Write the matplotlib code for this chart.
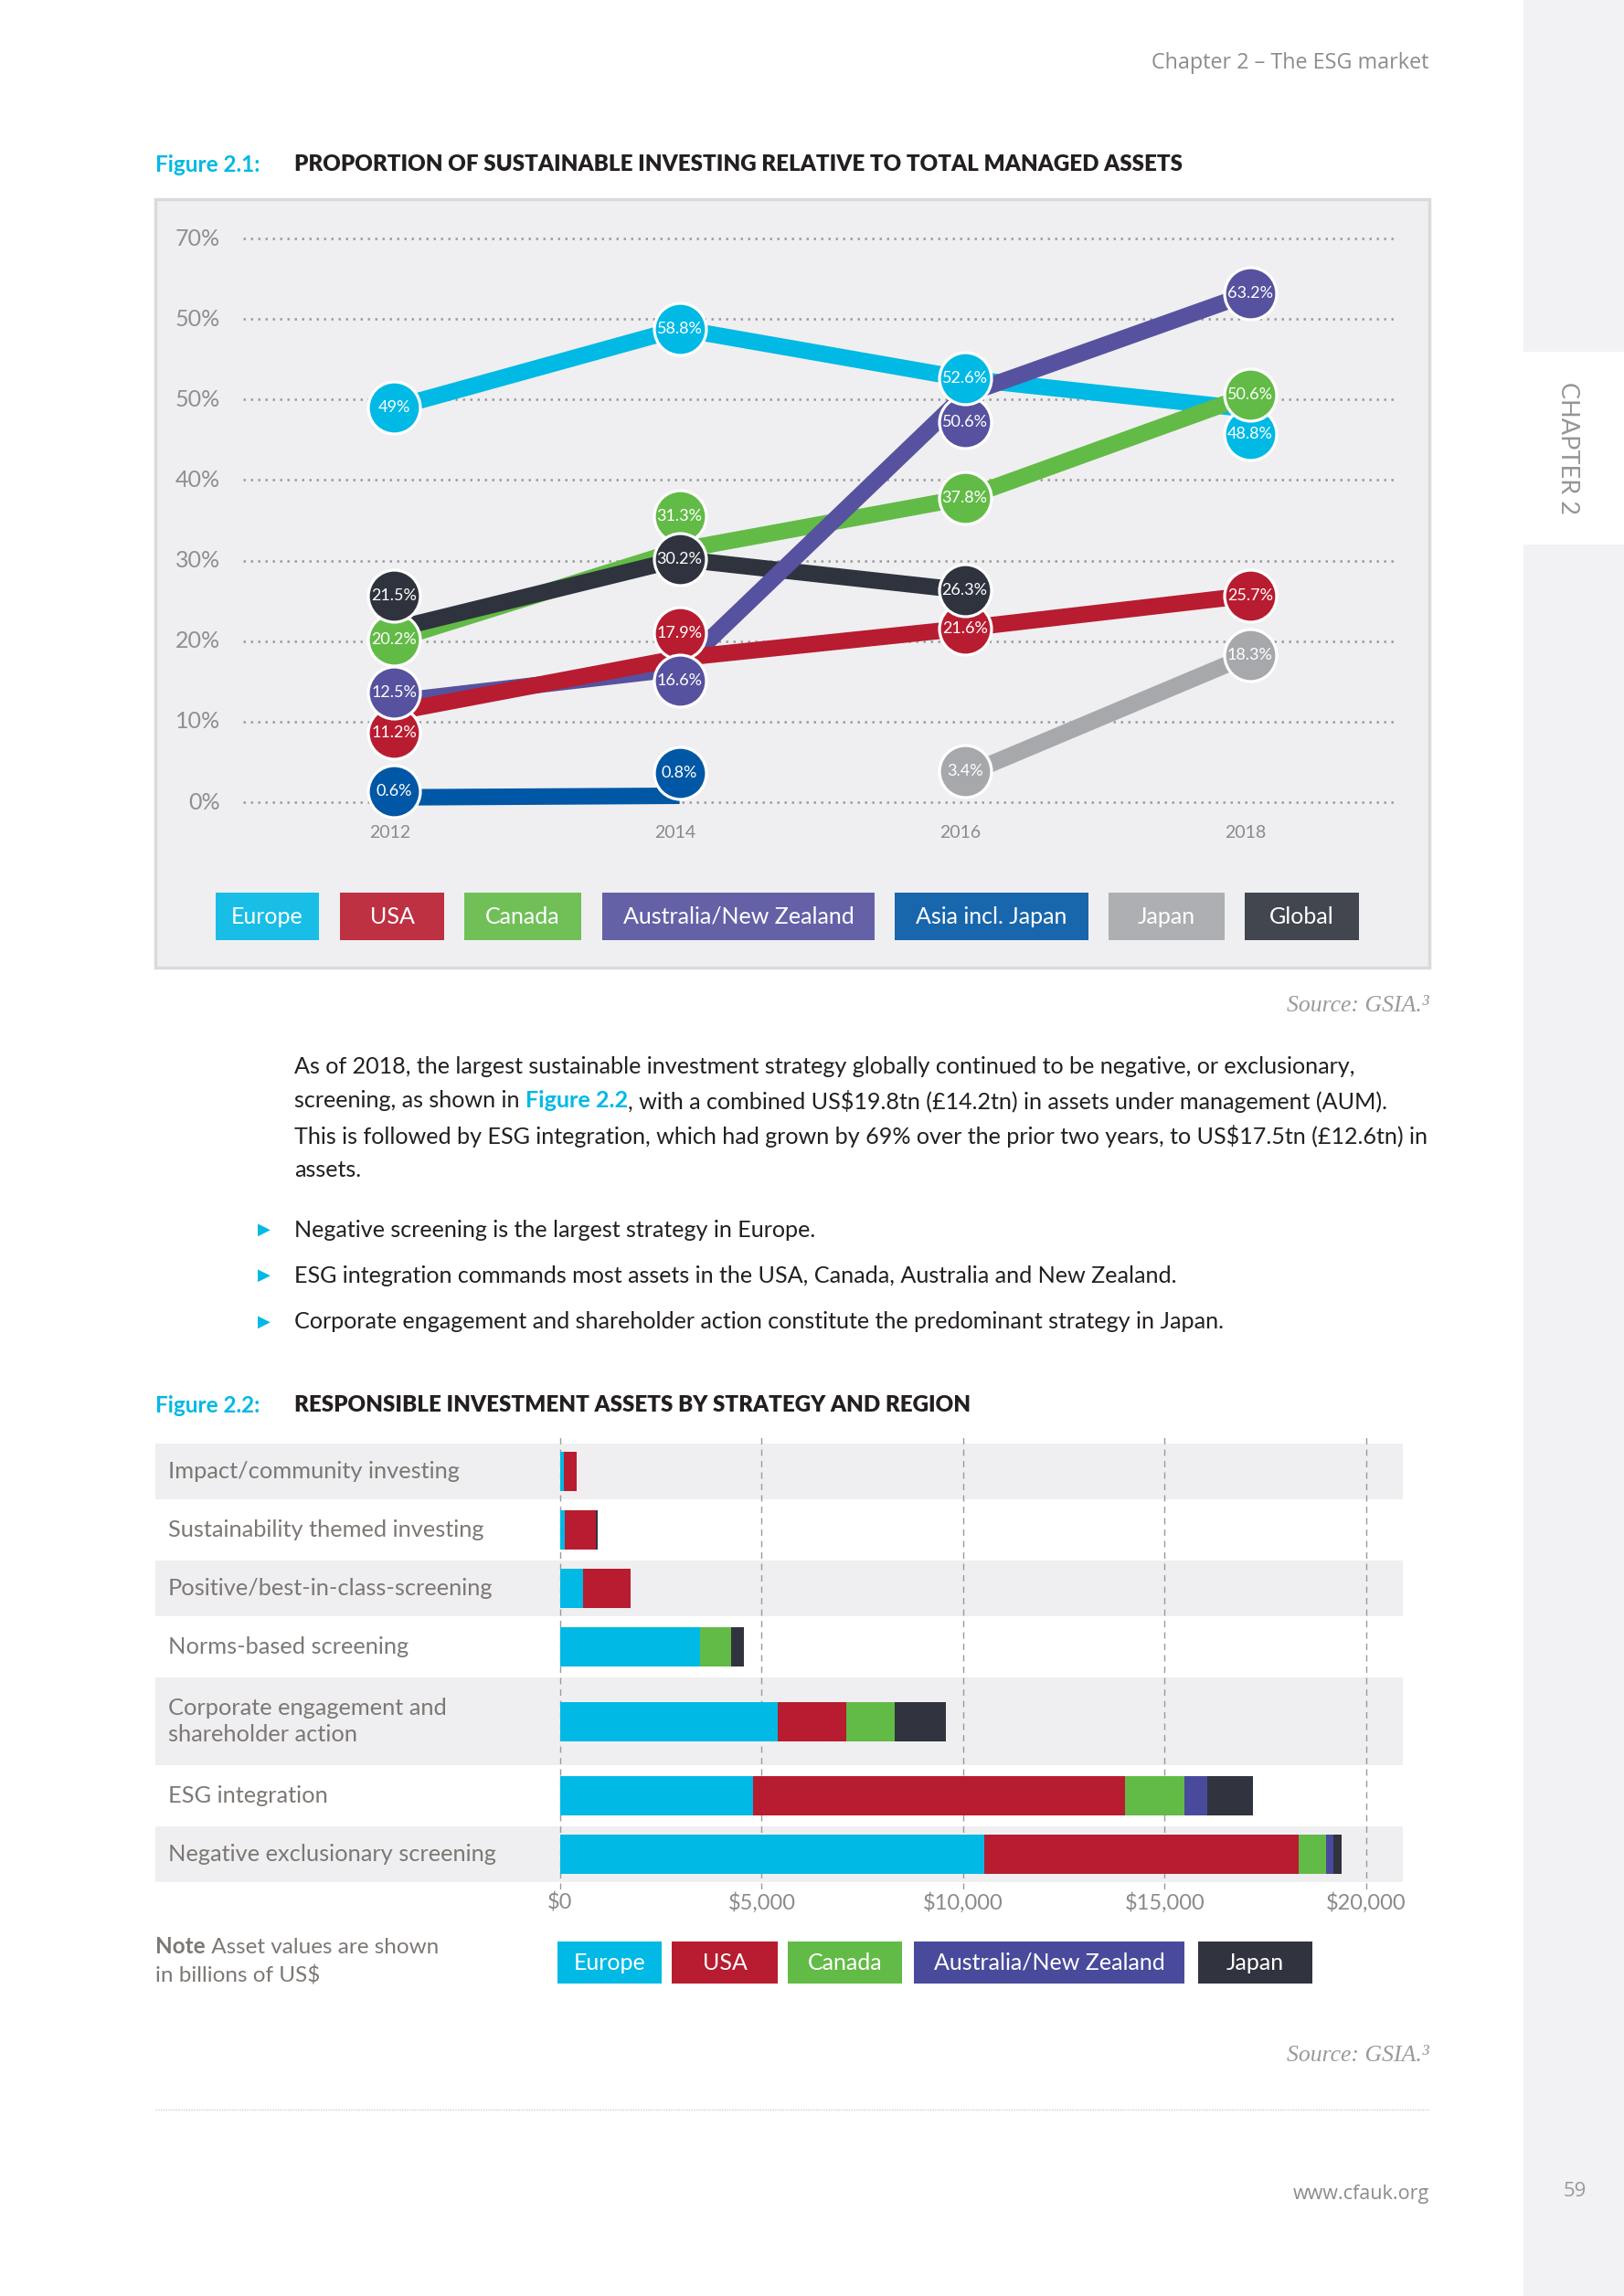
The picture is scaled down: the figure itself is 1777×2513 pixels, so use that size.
import numpy as np
import matplotlib
matplotlib.use('Agg')
import matplotlib.pyplot as plt
from matplotlib.patches import Rectangle
from matplotlib.lines import Line2D
from matplotlib.text import Annotation
from matplotlib import transforms

plt.rcParams['font.family'] = ['Lato', 'DejaVu Sans']

# ---- Figure 2.1 data (% of total managed assets) ----
years = [2012, 2014, 2016, 2018]
regions = ['Europe', 'USA', 'Canada', 'Australia/New Zealand', 'Asia incl. Japan', 'Japan', 'Global']
europe = [49.0, 58.8, 52.6, 48.8]
usa = [11.2, 17.9, 21.6, 25.7]
canada = [20.2, 31.3, 37.8, 50.6]
aus_nz = [12.5, 16.6, 50.6, 63.2]
asia = [0.6, 0.8, None, None]
japan = [None, None, 3.4, 18.3]
global_ = [21.5, 30.2, 26.3, None]
ytick_vals = [0, 10, 20, 30, 40, 50, 60, 70]
ytick_labels = ['0%', '10%', '20%', '30%', '40%', '50%', '50%', '70%']  # as printed

# ---- Figure 2.2 data (US$ bn) ----
strategies = ['Impact/community investing', 'Sustainability themed investing',
              'Positive/best-in-class-screening', 'Norms-based screening',
              'Corporate engagement and\nshareholder action', 'ESG integration',
              'Negative exclusionary screening']
bar_regions = ['Europe', 'USA', 'Canada', 'Australia/New Zealand', 'Japan']
eu_bn = [100, 120, 575, 3470, 5400, 4780, 10530]
us_bn = [300, 760, 1170, 0, 1700, 9240, 7800]
ca_bn = [0, 0, 0, 760, 1190, 1460, 680]
au_bn = [0, 0, 0, 0, 0, 575, 165]
jp_bn = [0, 40, 0, 330, 1290, 1130, 205]
xticks_bn = [0, 5000, 10000, 15000, 20000]

# ---- styling / layout ----
CYAN = '#00b9e4'
line_colors = ['#00b9e4', '#b81c30', '#62bb46', '#56529f', '#0057a5', '#a6a8ab', '#2f333d']
bar_colors = ['#00b9e4', '#b81c30', '#62bb46', '#4a4a9c', '#31343e']
line_z = [2, 6, 3, 5, 7, 8, 4]
marker_z = [11, 9, 12, 10, 9, 9, 13]
# marker shifts (pp) used in the original to keep labels apart
nudge = [[0, 0, 0, -3.1], [-2.6, 3.1, 0, 0], [0, 4.2, 0, 0], [1.1, -1.5, -3.4, 0],
         [0.8, 2.8, 0, 0], [0, 0, 0.5, 0], [4.2, 0, 0, 0]]
legend1_px = [(236, 349), (372, 486), (508, 636), (659, 957), (979, 1191), (1213, 1340), (1362, 1487)]
legend2_px = [(610, 724), (735, 851), (862, 987), (1000, 1296), (1311, 1436)]
band_edges = [1580, 1641, 1708, 1769, 1836, 1932, 1999, 2060]

W, H = 1777, 2513
GRAY = '#8c8c8c'
TEXT = '#231f20'
BODY_FS = 18.1

fig = plt.figure(figsize=(W / 100, H / 100), dpi=100)
fig.patch.set_facecolor('white')


def fx(px):
    return px / W


def fy(py):
    return 1 - py / H


def axes_px(x0, y0, x1, y1):
    a = fig.add_axes([fx(x0), fy(y1), (x1 - x0) / W, (y1 - y0) / H])
    a.set_zorder(2)
    return a


def ptext(x, y, s, **kw):
    kw.setdefault('zorder', 5)
    return fig.text(fx(x), fy(y), s, parse_math=False, **kw)


def rect_px(x0, y0, x1, y1, **kw):
    r = Rectangle((fx(x0), fy(y1)), (x1 - x0) / W, (y1 - y0) / H, transform=fig.transFigure, **kw)
    fig.add_artist(r)
    return r


def after(prev, s, **kw):
    t = Annotation(s, xy=(1, 0.5), xycoords=prev, va='center', ha='left', **kw)
    t.set_zorder(5)
    return fig.add_artist(t)


# sidebar
rect_px(1667, 0, 1777, 385, facecolor='#f2f2f4', edgecolor='none', zorder=-2)
rect_px(1667, 596, 1777, H, facecolor='#f2f2f4', edgecolor='none', zorder=-2)
ptext(1715, 491, 'CHAPTER 2', rotation=-90, ha='center', va='center', fontsize=19.5, color='#959595')
ptext(1723, 2399, '59', ha='center', va='center', fontsize=16, color='#9a9a9a', family='Open Sans')

# header
ptext(1564, 69, 'Chapter 2 \u2013 The ESG market', ha='right', va='center', fontsize=16.8,
      color=GRAY, family='Open Sans')

# ---------------- Figure 2.1 ----------------
ptext(170, 180, 'Figure 2.1:', ha='left', va='center', fontsize=17.5, color=CYAN, weight='bold')
ptext(322, 180, 'PROPORTION OF SUSTAINABLE INVESTING RELATIVE TO TOTAL MANAGED ASSETS',
      ha='left', va='center', fontsize=17.4, color=TEXT, weight='heavy')

rect_px(170, 218, 1564, 1059, facecolor='#efeff1', edgecolor='#dadadc', lw=2.5, zorder=-1)

ax1 = axes_px(266, 230, 1527, 940)
ax1.set_xlim(2010.94, 2019.02)
ax1.set_ylim(-7.03, 73.52)
ax1.axis('off')
ylab_tr = transforms.blended_transform_factory(fig.transFigure, ax1.transData)
for v, lab in zip(ytick_vals, ytick_labels):
    ax1.axhline(v, color='#9b9b9b', ls=(0, (1, 2.2)), lw=1.8, zorder=1)
    ax1.text(fx(241), v, lab, transform=ylab_tr, ha='right', va='center', fontsize=18,
             color='#8f8f8f', parse_math=False)
for yr in years:
    ax1.text(yr - 0.03, -3.8, str(yr), ha='center', va='center', fontsize=14, color='#8a8a8a')

series = [europe, usa, canada, aus_nz, asia, japan, global_]
for i, vals in enumerate(series):
    pts = [(x, v, nudge[i][k]) for k, (x, v) in enumerate(zip(years, vals)) if v is not None]
    xs = [p[0] for p in pts]
    ys = [p[1] for p in pts]
    ax1.plot(xs, ys, color=line_colors[i], lw=13, solid_capstyle='butt', zorder=line_z[i])
    for x, v, d in pts:
        ax1.plot(x, v + d, 'o', ms=41, mfc=line_colors[i], mec='white', mew=2.3,
                 zorder=marker_z[i] + 20, clip_on=False)
        ax1.text(x, v + d, f'{v:g}%', ha='center', va='center', fontsize=13, color='white',
                 zorder=marker_z[i] + 20.5)

for (x0, x1), name, c in zip(legend1_px, regions, line_colors):
    rect_px(x0, 977, x1, 1029, facecolor=c, edgecolor='none', alpha=0.9, zorder=3)
    ptext((x0 + x1) / 2, 1003, name, ha='center', va='center', fontsize=18, color='white')

ptext(1564, 1101, 'Source: GSIA.\u00b3', ha='right', va='center', fontsize=18.5, color='#9a9a9a',
      family='Liberation Serif', style='italic')

# ---------------- body text ----------------
body = dict(fontsize=BODY_FS, color=TEXT, va='center', ha='left')
ptext(322, 1168, 'As of 2018, the largest sustainable investment strategy globally continued to be '
      'negative, or exclusionary,', **body)
a = ptext(322, 1205, 'screening, as shown in ', **body)
b = after(a, 'Figure 2.2', fontsize=BODY_FS, color=CYAN, weight='bold')
after(b, ', with a combined US$19.8tn (\u00a314.2tn) in assets under management (AUM).',
      fontsize=BODY_FS, color=TEXT)
ptext(322, 1243, 'This is followed by ESG integration, which had grown by 69% over the prior two '
      'years, to US$17.5tn (\u00a312.6tn) in', **body)
ptext(322, 1280, 'assets.', **body)

bullets = ['Negative screening is the largest strategy in Europe.',
           'ESG integration commands most assets in the USA, Canada, Australia and New Zealand.',
           'Corporate engagement and shareholder action constitute the predominant strategy in Japan.']
for yb, s in zip([1346, 1396, 1447], bullets):
    ptext(289, yb, '\u25b6', ha='center', va='center', fontsize=13, color=CYAN, family='DejaVu Sans')
    ptext(322, yb, s, **body)

# ---------------- Figure 2.2 ----------------
ptext(170, 1538, 'Figure 2.2:', ha='left', va='center', fontsize=17.5, color=CYAN, weight='bold')
ptext(322, 1538, 'RESPONSIBLE INVESTMENT ASSETS BY STRATEGY AND REGION',
      ha='left', va='center', fontsize=17.4, color=TEXT, weight='heavy')

ax2 = axes_px(170, 1572, 1535, 2068)
ax2.set_xlim(-10045, 20907)
ax2.set_ylim(2068, 1572)
ax2.axis('off')

centers = [(band_edges[i] + band_edges[i + 1]) / 2 for i in range(len(strategies))]
lab_tr = transforms.blended_transform_factory(fig.transFigure, ax2.transData)
for i, name in enumerate(strategies):
    if i % 2 == 0:
        ax2.axhspan(band_edges[i], band_edges[i + 1], color='#efeff1', lw=0, zorder=0)
    ax2.text(fx(184), centers[i], name, transform=lab_tr, ha='left', va='center', fontsize=18.3,
             color='#7d7875', linespacing=1.35)
for v in xticks_bn:
    ax2.axvline(v, color='#9a9a9a', ls=(0, (5, 4)), lw=1, zorder=1)
    ax2.text(v, 2083, f'${v:,}', ha='center', va='center', fontsize=17, color='#8a8a8a',
             parse_math=False)

left = np.zeros(len(strategies))
for vals, c in zip([eu_bn, us_bn, ca_bn, au_bn, jp_bn], bar_colors):
    ax2.barh(centers, vals, left=left, height=43, color=c, lw=0, zorder=2)
    left += np.array(vals)

for (x0, x1), name, c in zip(legend2_px, bar_regions, bar_colors):
    rect_px(x0, 2125, x1, 2171, facecolor=c, edgecolor='none', zorder=3)
    ptext((x0 + x1) / 2, 2148, name, ha='center', va='center', fontsize=18, color='white')

n = ptext(170, 2131, 'Note', ha='left', va='center', fontsize=17.5, color='#7d7875', weight='bold')
after(n, ' Asset values are shown', fontsize=17.5, color='#7d7875')
ptext(170, 2163, 'in billions of US$', ha='left', va='center', fontsize=17.5, color='#7d7875')

ptext(1564, 2250, 'Source: GSIA.\u00b3', ha='right', va='center', fontsize=18.5, color='#9a9a9a',
      family='Liberation Serif', style='italic')

fig.add_artist(Line2D([fx(170), fx(1564)], [fy(2309), fy(2309)], transform=fig.transFigure,
                      color='#d0d0d0', ls=(0, (1, 1)), lw=1))
ptext(1564, 2402, 'www.cfauk.org', ha='right', va='center', fontsize=15.5, color=GRAY,
      family='Open Sans')

fig.savefig('out.png', dpi=100, facecolor='white')
